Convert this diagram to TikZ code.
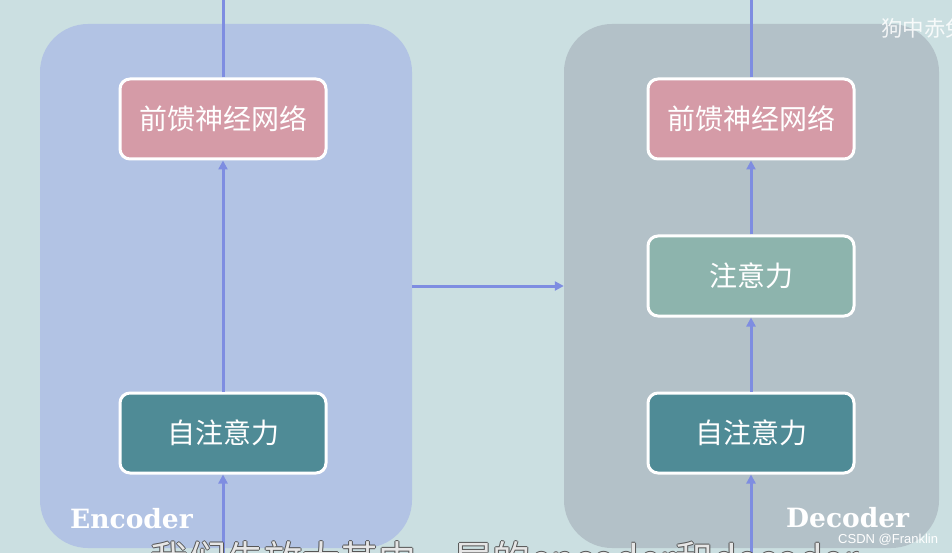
\documentclass[tikz,border=0pt]{standalone}
\usepackage{fontspec}
\usetikzlibrary{arrows.meta}
\newfontfamily\cjk{Noto Sans CJK SC}
\newfontfamily\lblfont{DejaVu Serif}
\newfontfamily\wmfont{Liberation Sans}
\definecolor{bgc}{HTML}{CBDFE1}
\definecolor{encc}{HTML}{B2C3E4}
\definecolor{decc}{HTML}{B3C1C8}
\definecolor{ffnc}{HTML}{D59BA7}
\definecolor{sac}{HTML}{4F8B96}
\definecolor{attc}{HTML}{8DB4AD}
\definecolor{arrc}{HTML}{7E8DE1}
\definecolor{subc}{HTML}{E6E6E6}
\definecolor{subo}{HTML}{555555}
\newcommand{\boxtext}[1]{\raisebox{3pt}{#1}}
\tikzset{
  panel/.style={minimum width=#1, minimum height=524pt, rounded corners=48pt, inner sep=0pt},
  blockbox/.style={draw=white, line width=3pt, rounded corners=10pt, minimum width=206pt, minimum height=80pt, text=white, font=\cjk\fontsize{28}{32}\selectfont, inner sep=0pt},
  flow/.style={draw=arrc, line width=3pt, -{Triangle[width=9pt,length=9pt]}},
  flowline/.style={draw=arrc, line width=3pt},
  panellabel/.style={text=white, font=\lblfont\bfseries\fontsize{26.5}{30}\selectfont, inner sep=0pt},
  subtxt/.style={font=\cjk\fontsize{38}{42}\selectfont, inner sep=0pt, anchor=north west},
}
\begin{document}
\begin{tikzpicture}[x=1pt,y=-1pt]
\useasboundingbox (0,0) rectangle (952,553);
\fill[bgc] (0,0) rectangle (952,553);
% panels
\node[panel=372pt, fill=encc] (encp) at (226,286) {};
\node[panel=375pt, fill=decc] (decp) at (751.5,286) {};
% encoder blocks
\node[blockbox, fill=ffnc] (effn) at (223,119) {\boxtext{前馈神经网络}};
\node[blockbox, fill=sac] (esa) at (223,433) {\boxtext{自注意力}};
% decoder blocks
\node[blockbox, fill=ffnc] (dffn) at (751,119) {\boxtext{前馈神经网络}};
\node[blockbox, fill=attc] (datt) at (751,276) {\boxtext{注意力}};
\node[blockbox, fill=sac] (dsa) at (751,433) {\boxtext{自注意力}};
% free ends
\coordinate (etop) at (223,-2);
\coordinate (ebot) at (223,556);
\coordinate (dtop) at (751,-2);
\coordinate (dbot) at (751,556);
% connectors
\draw[flowline] (effn.north) -- (etop);
\draw[flow] (esa.north) -- (effn.south);
\draw[flow] (ebot) -- (esa.south);
\draw[flowline] (dffn.north) -- (dtop);
\draw[flow] (datt.north) -- (dffn.south);
\draw[flow] (dsa.north) -- (datt.south);
\draw[flow] (dbot) -- (dsa.south);
\draw[flow] (encp.east) -- (decp.west);
% labels
\node[panellabel, anchor=base west] (enclbl) at (70,528) {Encoder};
\node[panellabel, anchor=base west] (declbl) at (786,527) {Decoder};
% watermarks
\node[anchor=north west, inner sep=0pt, text=white, opacity=0.85, font=\cjk\fontsize{21.5}{24}\selectfont] (wm1) at (881,18) {狗中赤兔};
\node[anchor=base west, inner sep=0pt, text=white, font=\wmfont\fontsize{13}{15}\selectfont] (wm2) at (838,543) {CSDN @Franklin};
% subtitle (cut off at the bottom)
\foreach \dx/\dy in {-0.9/0,0.9/0,0/-0.9,0/0.9} {
  \node[subtxt, text=subo] at (150+\dx,541+\dy) {我们先放大其中一层的encoder和decoder};
}
\node[subtxt, text=subc] (sub) at (150,541) {我们先放大其中一层的encoder和decoder};
\end{tikzpicture}
\end{document}
